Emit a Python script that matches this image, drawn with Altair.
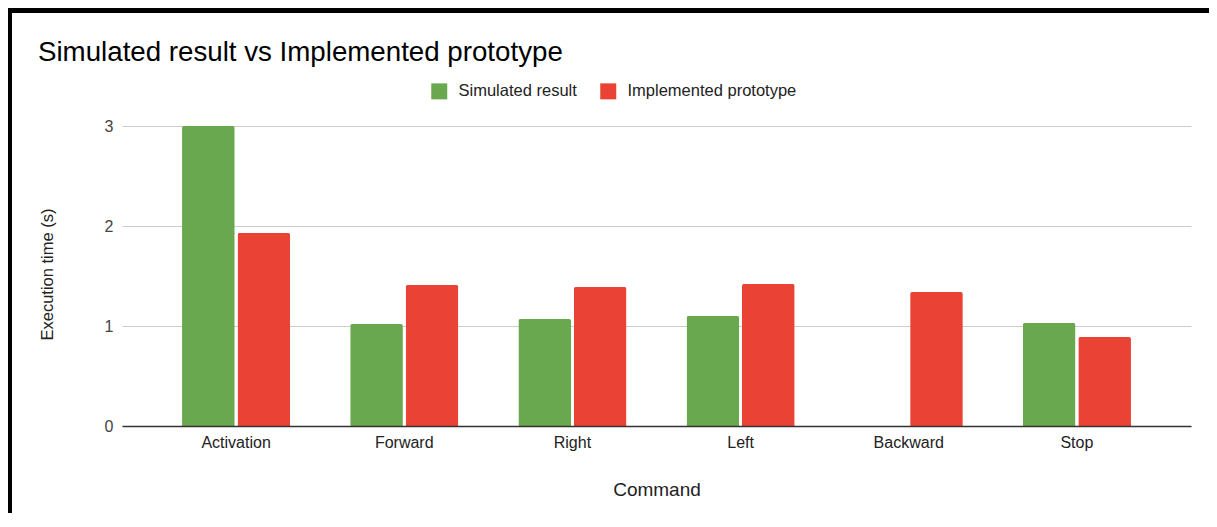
import altair as alt
import pandas as pd

commands = ["Activation", "Forward", "Right", "Left", "Backward", "Stop"]
series_names = ["Simulated result", "Implemented prototype"]
simulated = [3.0, 1.02, 1.07, 1.10, None, 1.03]
implemented = [1.93, 1.41, 1.39, 1.42, 1.34, 0.89]
colors = ["#6aa84f", "#ea4335"]

rows = []
for c, s, i in zip(commands, simulated, implemented):
    rows.append({"Command": c, "Series": series_names[0], "Value": s})
    rows.append({"Command": c, "Series": series_names[1], "Value": i})
df = pd.DataFrame(rows)

FONT = "Liberation Sans, Arial, sans-serif"

bars = alt.Chart(df).mark_bar(cornerRadiusTopLeft=2, cornerRadiusTopRight=2).encode(
    x=alt.X("Command:N", sort=commands,
            scale=alt.Scale(paddingInner=0.357, paddingOuter=0.357),
            axis=alt.Axis(title="Command", labelAngle=0, ticks=False, domain=True,
                          domainColor="#333333", domainWidth=1.5, labelFontSize=16,
                          labelColor="#222222", labelPadding=8, titleFontSize=19,
                          titleFontWeight="normal", titleColor="#222222", titlePadding=30,
                          zindex=1, labelFont=FONT, titleFont=FONT)),
    xOffset=alt.XOffset("Series:N", sort=series_names,
                        scale=alt.Scale(domain=series_names, paddingInner=0.05, paddingOuter=0)),
    y=alt.Y("Value:Q", scale=alt.Scale(domain=[0, 3], nice=False),
            axis=alt.Axis(title="Execution time (s)", values=[0, 1, 2, 3], ticks=False,
                          domain=False, grid=True, gridColor="#cccccc", labelFontSize=16,
                          labelColor="#444444", labelPadding=9, titleFontSize=16.5,
                          titleFontWeight="normal", titleColor="#222222",
                          titleX=-75, titleY=148, titleBaseline="middle",
                          labelFont=FONT, titleFont=FONT)),
    color=alt.Color("Series:N", sort=series_names,
                    scale=alt.Scale(domain=series_names, range=colors),
                    legend=alt.Legend(title=None, orient="none", legendX=309, legendY=-43,
                                      direction="horizontal", symbolType="square",
                                      symbolSize=256, symbolStrokeWidth=0,
                                      labelFontSize=16.5, labelColor="#222222",
                                      labelFont=FONT, labelOffset=11, columnPadding=23,
                                      labelLimit=0, padding=0)),
)

frame_data = alt.InlineData(values=[{"k": 0}])
frame_top = alt.Chart(frame_data).mark_rect(color="black").encode(
    x=alt.value(-114), x2=alt.value(1087), y=alt.value(-118), y2=alt.value(-113))
frame_left = alt.Chart(frame_data).mark_rect(color="black").encode(
    x=alt.value(-114), x2=alt.value(-110), y=alt.value(-118), y2=alt.value(390))

chart = alt.layer(frame_top, frame_left, bars).properties(
    width=1069,
    height=300,
    autosize=alt.AutoSizeParams(type="none"),
    padding={"left": 114, "top": 118, "right": 18, "bottom": 87},
    title=alt.Title("Simulated result vs Implemented prototype", anchor="start",
                    fontSize=27.7, fontWeight="normal", color="#000000", font=FONT,
                    baseline="alphabetic", dx=30, dy=81, offset=0),
).configure(background="white", view=alt.ViewConfig(stroke=None))

chart.save("out.html", embed_options={"renderer": "svg", "actions": False})
